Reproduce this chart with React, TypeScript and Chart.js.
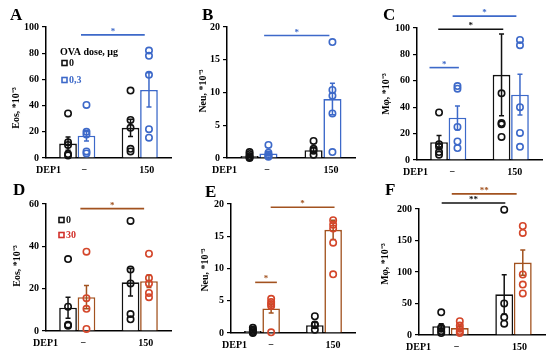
import React, { useEffect, useRef } from 'react';
import { Chart, registerables } from 'chart.js';
Chart.register(...registerables);

const categories = ['−', '150'];

// colours
const BLACK = '#111111';
const BLUE = '#3d69c9';
const BROWN = '#a2521f';
const RED_PT = '#d4462a';

// Panel A: Eos, OVA 0 vs 0.3
const aMean0 = [11, 23];
const aSem0 = [5, 6.5];
const aPts0 = [[34, 12, 10, 3, 2], [51.5, 29, 23, 7, 5]];
const aMean1 = [17, 52];
const aSem1 = [4, 13];
const aPts1 = [[40.5, 20, 18, 5, 3.5], [82, 78, 63.5, 22, 15.5]];

// Panel B: Neu, OVA 0 vs 0.3
const bMean0 = [0.3, 1.2];
const bSem0 = [0.15, 0.45];
const bPts0 = [[0.9, 0.6, 0.3, 0.1, 0], [2.6, 1.4, 1.1, 0.5]];
const bMean1 = [0.7, 9.0];
const bSem1 = [0.3, 2.4];
const bPts1 = [[2, 0.8, 0.5, 0.3, 0.2], [17.7, 10.4, 9.5, 6.8, 0.9]];

// Panel C: Mφ, OVA 0 vs 0.3
const cMean0 = [13.5, 64.5];
const cSem0 = [5, 31];
const cPts0 = [[36, 12, 10, 6, 4], [50.5, 28, 27, 17.5]];
const cMean1 = [32, 49.5];
const cSem1 = [9, 15.5];
const cPts1 = [[56, 54, 25, 14, 9], [91, 87, 40, 20.5, 10]];

// Panel D: Eos, OVA 0 vs 30
const dMean0 = [11, 23];
const dSem0 = [5, 6.5];
const dPts0 = [[34, 11.5, 3, 2.5], [52, 29, 22.5, 8, 5.5]];
const dMean1 = [16, 23.5];
const dSem1 = [5.5, 3];
const dPts1 = [[37.5, 15.5, 10.5, 1], [36.5, 25, 22.5, 18, 16]];

// Panel E: Neu, OVA 0 vs 30
const eMean0 = [0.3, 1.2];
const eSem0 = [0.15, 0.45];
const ePts0 = [[0.8, 0.5, 0.3, 0.1, 0], [2.6, 1.3, 1.2, 0.5]];
const eMean1 = [3.8, 16];
const eSem1 = [0.7, 1.5];
const ePts1 = [[5.3, 4.8, 4.5, 4.2, 0.1], [17.5, 16.8, 16.2, 14, 9.1]];

// Panel F: Mφ, OVA 0 vs 30
const fMean0 = [14, 64.5];
const fSem0 = [4, 31];
const fPts0 = [[36, 12, 10, 6, 3], [199, 50, 28, 18]];
const fMean1 = [11, 115];
const fSem1 = [3, 20];
const fPts1 = [[22, 15, 10, 6, 3], [173, 162, 96, 80, 66]];

type Sig = { from: number; to: number; y: number; color: string; text: string };
const aSigs: Sig[] = [{ from: 0.06, to: 1.08, y: 94, color: BLUE, text: '*' }];
const bSigs: Sig[] = [{ from: 0.08, to: 1.1, y: 18.7, color: BLUE, text: '*' }];
const cSigs: Sig[] = [
  { from: -0.3, to: 0.17, y: 70, color: BLUE, text: '*' },
  { from: -0.16, to: 0.88, y: 99, color: BLACK, text: '*' },
  { from: 0.07, to: 1.09, y: 109, color: BLUE, text: '*' },
];
const dSigs: Sig[] = [{ from: 0.05, to: 1.07, y: 57.8, color: BROWN, text: '*' }];
const eSigs: Sig[] = [
  { from: -0.11, to: 0.24, y: 7.85, color: BROWN, text: '*' },
  { from: 0.14, to: 1.17, y: 19.5, color: BROWN, text: '*' },
];
const fSigs: Sig[] = [
  { from: -0.14, to: 0.87, y: 209.5, color: BLACK, text: '**' },
  { from: 0.02, to: 1.05, y: 224, color: BROWN, text: '**' },
];

type LegendItem = { text: string; color: string; x: number; y: number };
type PanelCfg = {
  letter: string;
  letterX: number;
  letterY: number;
  box: { x: number; y: number; w: number; h: number };
  axisX: number;
  top: number;
  bottom: number;
  right: number;
  yMax: number;
  yStep: number;
  yTitle: string;
  titleX: number;
  titleY: number;
  color: string;
  ptColor: string;
  mean0: number[];
  sem0: number[];
  pts0: number[][];
  mean1: number[];
  sem1: number[];
  pts1: number[][];
  sigs: Sig[];
  labelOffset: number;
  dep1X: number;
  legendTitle?: { text: string; x: number; y: number };
  legend?: LegendItem[];
};

const FONT = "'Liberation Serif', 'Times New Roman', serif";

const panels: PanelCfg[] = [
  {
    letter: 'A', letterX: 10, letterY: 20,
    box: { x: 0, y: 0, w: 180, h: 178 }, axisX: 46, top: 27, bottom: 158, right: 171,
    yMax: 100, yStep: 20, yTitle: 'Eos, *10⁻³', titleX: 16, titleY: 108,
    color: BLUE, ptColor: BLUE,
    mean0: aMean0, sem0: aSem0, pts0: aPts0, mean1: aMean1, sem1: aSem1, pts1: aPts1,
    sigs: aSigs, labelOffset: 7, dep1X: 36,
    legendTitle: { text: 'OVA dose, μg', x: 60, y: 52 },
    legend: [
      { text: '0', color: BLACK, x: 62, y: 63 },
      { text: '0,3', color: BLUE, x: 62, y: 80 },
    ],
  },
  {
    letter: 'B', letterX: 202, letterY: 20,
    box: { x: 180, y: 0, w: 180, h: 178 }, axisX: 227, top: 27, bottom: 158, right: 355,
    yMax: 20, yStep: 5, yTitle: 'Neu, *10⁻³', titleX: 203, titleY: 91,
    color: BLUE, ptColor: BLUE,
    mean0: bMean0, sem0: bSem0, pts0: bPts0, mean1: bMean1, sem1: bSem1, pts1: bPts1,
    sigs: bSigs, labelOffset: 8, dep1X: 212,
  },
  {
    letter: 'C', letterX: 383, letterY: 20,
    box: { x: 360, y: 0, w: 190, h: 178 }, axisX: 417, top: 28, bottom: 160, right: 542,
    yMax: 100, yStep: 20, yTitle: 'Mφ, *10⁻³', titleX: 386, titleY: 94,
    color: BLUE, ptColor: BLUE,
    mean0: cMean0, sem0: cSem0, pts0: cPts0, mean1: cMean1, sem1: cSem1, pts1: cPts1,
    sigs: cSigs, labelOffset: 4, dep1X: 403,
  },
  {
    letter: 'D', letterX: 13, letterY: 195,
    box: { x: 0, y: 178, w: 180, h: 178 }, axisX: 46, top: 204, bottom: 331, right: 171,
    yMax: 60, yStep: 20, yTitle: 'Eos, *10⁻³', titleX: 17, titleY: 266,
    color: BROWN, ptColor: RED_PT,
    mean0: dMean0, sem0: dSem0, pts0: dPts0, mean1: dMean1, sem1: dSem1, pts1: dPts1,
    sigs: dSigs, labelOffset: 6, dep1X: 33,
    legend: [
      { text: '0', color: BLACK, x: 59, y: 220 },
      { text: '30', color: '#d2302a', x: 59, y: 235 },
    ],
  },
  {
    letter: 'E', letterX: 205, letterY: 197,
    box: { x: 180, y: 178, w: 180, h: 178 }, axisX: 231, top: 204, bottom: 333, right: 355,
    yMax: 20, yStep: 5, yTitle: 'Neu, *10⁻³', titleX: 205, titleY: 270,
    color: BROWN, ptColor: RED_PT,
    mean0: eMean0, sem0: eSem0, pts0: ePts0, mean1: eMean1, sem1: eSem1, pts1: ePts1,
    sigs: eSigs, labelOffset: 9, dep1X: 222,
  },
  {
    letter: 'F', letterX: 385, letterY: 195,
    box: { x: 360, y: 178, w: 190, h: 178 }, axisX: 419, top: 209, bottom: 335, right: 545,
    yMax: 200, yStep: 50, yTitle: 'Mφ, *10⁻³', titleX: 385, titleY: 264,
    color: BROWN, ptColor: RED_PT,
    mean0: fMean0, sem0: fSem0, pts0: fPts0, mean1: fMean1, sem1: fSem1, pts1: fPts1,
    sigs: fSigs, labelOffset: 6, dep1X: 406,
  },
];

function Panel({ cfg }: { cfg: PanelCfg }) {
  const ref = useRef<HTMLCanvasElement | null>(null);
  useEffect(() => {
    const canvas = ref.current;
    if (!canvas) return;
    const ox = cfg.box.x;
    const oy = cfg.box.y;
    const tickFont = { family: FONT, size: 10, weight: 'bold' as const };

    const overlay = {
      id: 'overlay',
      afterDatasetsDraw(chart: any) {
        const ctx = chart.ctx as CanvasRenderingContext2D;
        const ys = chart.scales.y;
        const xs = chart.scales.x;
        const means = [cfg.mean0, cfg.mean1];
        const sems = [cfg.sem0, cfg.sem1];
        const pts = [cfg.pts0, cfg.pts1];
        const colors = [BLACK, cfg.color];
        const ptColors = [BLACK, cfg.ptColor];
        ctx.save();
        for (let d = 0; d < 2; d++) {
          const meta = chart.getDatasetMeta(d);
          meta.data.forEach((bar: any, j: number) => {
            const x = bar.x;
            const yTop = ys.getPixelForValue(means[d][j] + sems[d][j]);
            const yBot = ys.getPixelForValue(Math.max(0, means[d][j] - sems[d][j]));
            ctx.strokeStyle = colors[d];
            ctx.lineWidth = 1.5;
            ctx.beginPath();
            ctx.moveTo(x, yTop);
            ctx.lineTo(x, yBot);
            ctx.moveTo(x - 2.5, yTop);
            ctx.lineTo(x + 2.5, yTop);
            ctx.moveTo(x - 2.5, yBot);
            ctx.lineTo(x + 2.5, yBot);
            ctx.stroke();
            ctx.strokeStyle = ptColors[d];
            ctx.lineWidth = 1.6;
            pts[d][j].forEach((v) => {
              ctx.beginPath();
              ctx.arc(x, ys.getPixelForValue(v), 3.2, 0, Math.PI * 2);
              ctx.stroke();
            });
          });
        }
        cfg.sigs.forEach((s) => {
          const x1 = xs.getPixelForValue(s.from);
          const x2 = xs.getPixelForValue(s.to);
          const y = ys.getPixelForValue(s.y);
          ctx.strokeStyle = s.color;
          ctx.lineWidth = 1.6;
          ctx.beginPath();
          ctx.moveTo(x1, y);
          ctx.lineTo(x2, y);
          ctx.stroke();
          ctx.fillStyle = s.color;
          ctx.font = `bold 9px ${FONT}`;
          ctx.textAlign = 'center';
          ctx.textBaseline = 'alphabetic';
          ctx.fillText(s.text, (x1 + x2) / 2, y - 1);
        });
        ctx.restore();
      },
      afterDraw(chart: any) {
        const ctx = chart.ctx as CanvasRenderingContext2D;
        const area = chart.chartArea;
        ctx.save();
        ctx.fillStyle = '#000';
        ctx.font = `bold 17px ${FONT}`;
        ctx.textAlign = 'left';
        ctx.textBaseline = 'alphabetic';
        ctx.fillText(cfg.letter, cfg.letterX - ox, cfg.letterY - oy);
        ctx.font = `bold 10px ${FONT}`;
        ctx.textBaseline = 'middle';
        ctx.fillText('DEP1', cfg.dep1X - ox, area.bottom + 12);
        ctx.save();
        ctx.translate(cfg.titleX - ox, cfg.titleY - oy);
        ctx.rotate(-Math.PI / 2);
        ctx.textAlign = 'center';
        ctx.textBaseline = 'middle';
        ctx.font = `bold 10px ${FONT}`;
        ctx.fillText(cfg.yTitle, 0, 0);
        ctx.restore();
        if (cfg.legendTitle) {
          ctx.font = `bold 10px ${FONT}`;
          ctx.textAlign = 'left';
          ctx.textBaseline = 'middle';
          ctx.fillStyle = '#000';
          ctx.fillText(cfg.legendTitle.text, cfg.legendTitle.x - ox, cfg.legendTitle.y - oy);
        }
        (cfg.legend || []).forEach((it) => {
          const lx = it.x - ox;
          const ly = it.y - oy;
          ctx.strokeStyle = it.color;
          ctx.lineWidth = 1.6;
          ctx.strokeRect(lx, ly - 2.5, 5, 5);
          ctx.fillStyle = it.color;
          ctx.font = `bold 10px ${FONT}`;
          ctx.textAlign = 'left';
          ctx.textBaseline = 'middle';
          ctx.fillText(it.text, lx + 7, ly);
        });
        ctx.restore();
      },
    };

    const chart = new Chart(canvas, {
      type: 'bar',
      data: {
        labels: categories,
        datasets: [
          {
            label: '0',
            data: cfg.mean0,
            backgroundColor: '#ffffff',
            borderColor: BLACK,
            borderWidth: 1.6,
          },
          {
            label: 'OVA',
            data: cfg.mean1,
            backgroundColor: '#ffffff',
            borderColor: cfg.color,
            borderWidth: 1.6,
          },
        ],
      },
      options: {
        responsive: false,
        animation: false,
        devicePixelRatio: 1,
        datasets: { bar: { categoryPercentage: 0.59, barPercentage: 0.96 } },
        layout: {
          padding: {
            left: 0,
            top: cfg.top - oy,
            right: ox + cfg.box.w - cfg.right,
            bottom: 0,
          },
        },
        plugins: { legend: { display: false }, tooltip: { enabled: false } },
        scales: {
          x: {
            type: 'category',
            offset: true,
            grid: { display: false, drawTicks: false },
            border: { display: true, color: '#000', width: 1.5 },
            ticks: {
              font: tickFont,
              color: '#000',
              padding: 6,
              labelOffset: cfg.labelOffset,
              maxRotation: 0,
              autoSkip: false,
            },
            afterFit: (s: any) => {
              s.height = oy + cfg.box.h - cfg.bottom;
            },
          },
          y: {
            min: 0,
            max: cfg.yMax,
            ticks: { stepSize: cfg.yStep, font: tickFont, color: '#000', padding: 3 },
            grid: { drawOnChartArea: false, drawTicks: true, tickLength: 4, color: '#000', lineWidth: 1.2 },
            border: { color: '#000', width: 1.5 },
            afterFit: (s: any) => {
              s.width = cfg.axisX - ox;
            },
          },
        },
      },
      plugins: [overlay],
    } as any);
    return () => chart.destroy();
  }, [cfg]);
  return (
    <canvas
      ref={ref}
      width={cfg.box.w}
      height={cfg.box.h}
      style={{
        position: 'absolute',
        left: cfg.box.x,
        top: cfg.box.y,
        width: cfg.box.w,
        height: cfg.box.h,
      }}
    />
  );
}

export default function App() {
  return (
    <div
      style={{
        position: 'fixed',
        left: 0,
        top: 0,
        width: 550,
        height: 356,
        background: '#ffffff',
        overflow: 'hidden',
      }}
    >
      {panels.map((p) => (
        <Panel key={p.letter} cfg={p} />
      ))}
    </div>
  );
}
